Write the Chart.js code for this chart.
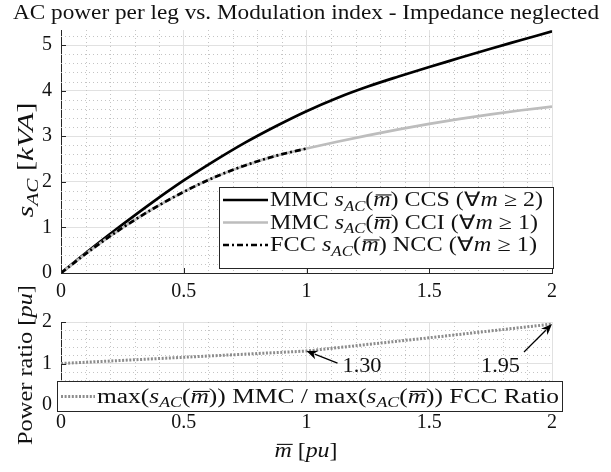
<!DOCTYPE html>
<html>
<head>
<meta charset="utf-8">
<script src="https://cdn.jsdelivr.net/npm/chart.js@4.4.0/dist/chart.umd.min.js"></script>
<style>
    html, body { margin: 0; padding: 0; background: #fff; }
    #wrap { position: relative; width: 611px; height: 472px; }
    canvas { position: absolute; left: 0; top: 0; }
</style>
</head>
<body>
<div id="wrap">
    <canvas id="topChart" width="611" height="472"></canvas>
    <canvas id="bottomChart" width="611" height="472"></canvas>
</div>
<script>
// ========== DADOS ==========
const mCurve = [0, 0.125, 0.25, 0.375, 0.5, 0.625, 0.75, 0.875, 1, 1.125, 1.25, 1.375, 1.5, 1.625, 1.75, 1.875, 2];
const mmcCcs = [0, 0.54, 1.06, 1.56, 2.03, 2.46, 2.86, 3.22, 3.55, 3.84, 4.09, 4.31, 4.52, 4.72, 4.92, 5.11, 5.30];
const mmcCci = [0, 0.52, 0.99, 1.41, 1.78, 2.10, 2.36, 2.57, 2.73, 2.88, 3.02, 3.15, 3.27, 3.38, 3.48, 3.57, 3.65];
const mFcc = [0, 0.125, 0.25, 0.375, 0.5, 0.625, 0.75, 0.875, 1];
const fccNcc = [0, 0.52, 0.99, 1.41, 1.78, 2.10, 2.36, 2.57, 2.73];

const mRatio = [0, 0.5, 1, 1.5, 2];
const powerRatio = [1.00, 1.15, 1.30, 1.62, 1.95];
const ratioMarks = [
    { x: 1, y: 1.30, label: '1.30' },
    { x: 2, y: 1.95, label: '1.95' }
];

const xTicks = [0, 0.5, 1, 1.5, 2];
const xMinor = [0.1, 0.2, 0.3, 0.4, 0.6, 0.7, 0.8, 0.9, 1.1, 1.2, 1.3, 1.4, 1.6, 1.7, 1.8, 1.9];
const yTicksTop = [0, 1, 2, 3, 4, 5];
const yMinorTop = [0.2, 0.4, 0.6, 0.8, 1.2, 1.4, 1.6, 1.8, 2.2, 2.4, 2.6, 2.8, 3.2, 3.4, 3.6, 3.8, 4.2, 4.4, 4.6, 4.8, 5.2];
const yTicksBottom = [0, 1, 2];
const yMinorBottom = [0.2, 0.4, 0.6, 0.8, 1.2, 1.4, 1.6, 1.8];

const FONT = '"Liberation Serif", serif';
const TXT = '#111';

// ========== TEXTO COM MATEMÁTICA ==========
const N = t => ({ t });
const I = t => ({ t, it: true });
const S = t => ({ t, it: true, sub: true });
const B = t => ({ t, it: true, bar: true });
const sAC = () => [I('s'), S('AC'), N('('), B('m'), N(')')];

function fontFor(r, size) {
    const s = r.sub ? size * 0.7 : size;
    return (r.it ? 'italic ' : '') + s + 'px ' + FONT;
}

function drawRuns(ctx, runs, x, y, size, opts = {}) {
    ctx.save();
    let w = 0;
    const widths = runs.map(r => {
        ctx.font = fontFor(r, size);
        const m = ctx.measureText(r.t).width;
        w += m;
        return m;
    });
    const sx = opts.fit ? opts.fit / w : 1;
    let start = x;
    if (opts.align === 'center') start = x - w * sx / 2;
    if (opts.align === 'right') start = x - w * sx;
    ctx.translate(start, y + size * 0.32);
    ctx.scale(sx, 1);
    ctx.fillStyle = TXT;
    ctx.textAlign = 'left';
    ctx.textBaseline = 'alphabetic';
    let cx = 0;
    runs.forEach((r, i) => {
        ctx.font = fontFor(r, size);
        ctx.fillText(r.t, cx, r.sub ? size * 0.22 : 0);
        if (r.bar) ctx.fillRect(cx + size * 0.1, -size * 0.6, widths[i] - size * 0.06, 1.1);
        cx += widths[i];
    });
    ctx.restore();
}

function drawRotated(ctx, runs, cx, cy, size, fit) {
    ctx.save();
    ctx.translate(cx, cy);
    ctx.rotate(-Math.PI / 2);
    drawRuns(ctx, runs, 0, 0, size, { align: 'center', fit });
    ctx.restore();
}

// ========== GRADE MENOR E MARCAS ==========
function drawMinorGrid(chart, yMinor) {
    const { ctx, chartArea: a, scales } = chart;
    ctx.save();
    ctx.strokeStyle = '#c4c4c4';
    ctx.lineWidth = 1;
    ctx.setLineDash([1, 3]);
    ctx.beginPath();
    xMinor.forEach(v => {
        const px = Math.round(scales.x.getPixelForValue(v)) + 0.5;
        ctx.moveTo(px, a.top);
        ctx.lineTo(px, a.bottom);
    });
    yMinor.forEach(v => {
        const py = Math.round(scales.y.getPixelForValue(v)) + 0.5;
        ctx.moveTo(a.left, py);
        ctx.lineTo(a.right, py);
    });
    ctx.stroke();
    ctx.restore();
}

function drawInnerTicks(chart, yTicks) {
    const { ctx, chartArea: a, scales } = chart;
    ctx.save();
    ctx.strokeStyle = '#262626';
    ctx.lineWidth = 1;
    ctx.beginPath();
    xTicks.forEach(v => {
        const px = Math.round(scales.x.getPixelForValue(v)) + 0.5;
        ctx.moveTo(px, a.bottom);
        ctx.lineTo(px, a.bottom - 5);
    });
    yTicks.forEach(v => {
        const py = Math.round(scales.y.getPixelForValue(v)) + 0.5;
        ctx.moveTo(a.left, py);
        ctx.lineTo(a.left + 5, py);
    });
    ctx.stroke();
    ctx.restore();
}

function legendLine(ctx, ds, x1, x2, y) {
    ctx.save();
    ctx.strokeStyle = ds.borderColor;
    ctx.lineWidth = ds.borderWidth;
    ctx.setLineDash(ds.borderDash || []);
    ctx.beginPath();
    ctx.moveTo(x1, y);
    ctx.lineTo(x2, y);
    ctx.stroke();
    ctx.restore();
}

function arrow(ctx, x1, y1, x2, y2) {
    const ang = Math.atan2(y2 - y1, x2 - x1);
    const len = 11, half = 4.5;
    ctx.save();
    ctx.strokeStyle = '#000';
    ctx.fillStyle = '#000';
    ctx.lineWidth = 1.3;
    ctx.beginPath();
    ctx.moveTo(x1, y1);
    ctx.lineTo(x2 - Math.cos(ang) * len * 0.8, y2 - Math.sin(ang) * len * 0.8);
    ctx.stroke();
    ctx.beginPath();
    ctx.moveTo(x2, y2);
    ctx.lineTo(x2 - Math.cos(ang) * len + Math.sin(ang) * half, y2 - Math.sin(ang) * len - Math.cos(ang) * half);
    ctx.lineTo(x2 - Math.cos(ang) * len * 0.7, y2 - Math.sin(ang) * len * 0.7);
    ctx.lineTo(x2 - Math.cos(ang) * len - Math.sin(ang) * half, y2 - Math.sin(ang) * len + Math.cos(ang) * half);
    ctx.closePath();
    ctx.fill();
    ctx.restore();
}

// ========== EIXOS COMUNS ==========
function xAxis(height, pad) {
    return {
        type: 'linear', min: 0, max: 2,
        afterBuildTicks: axis => { axis.ticks = xTicks.map(v => ({ value: v })); },
        afterFit: axis => { axis.height = height; },
        ticks: { callback: v => String(v), color: TXT, font: { family: FONT, size: 20 }, padding: pad, maxRotation: 0 },
        grid: { color: '#e1e1e1', drawTicks: false },
        border: { color: '#262626', width: 1 }
    };
}

function yAxis(max, ticks) {
    return {
        type: 'linear', min: 0, max: max,
        afterBuildTicks: axis => { axis.ticks = ticks.map(v => ({ value: v })); },
        afterFit: axis => { axis.width = 61; },
        ticks: { callback: v => String(v), color: TXT, font: { family: FONT, size: 20 }, padding: 9 },
        grid: { color: '#e1e1e1', drawTicks: false },
        border: { color: '#262626', width: 1 }
    };
}

// ========== GRÁFICO SUPERIOR ==========
const topDatasets = [
    {
        label: 'MMC CCS',
        data: mCurve.map((m, i) => ({ x: m, y: mmcCcs[i] })),
        borderColor: '#000', borderWidth: 2.7, order: 2
    },
    {
        label: 'MMC CCI',
        data: mCurve.map((m, i) => ({ x: m, y: mmcCci[i] })),
        borderColor: '#bdbdbd', borderWidth: 2.7, order: 1
    },
    {
        label: 'FCC NCC',
        data: mFcc.map((m, i) => ({ x: m, y: fccNcc[i] })),
        borderColor: '#000', borderWidth: 2.7, borderDash: [6, 3, 2, 3], order: 0
    }
];

const topLegend = [
    [N('MMC '), ...sAC(), N(' CCS ('), N('∀'), I('m'), N(' ≥ 2)')],
    [N('MMC '), ...sAC(), N(' CCI ('), N('∀'), I('m'), N(' ≥ 1)')],
    [N('FCC '), ...sAC(), N(' NCC ('), N('∀'), I('m'), N(' ≥ 1)')]
];
const topLegendFit = [273, 268, 267];

new Chart(document.getElementById('topChart'), {
    type: 'line',
    data: { datasets: topDatasets },
    options: {
        responsive: false,
        animation: false,
        layout: { padding: { top: 30, right: 59, bottom: 162, left: 0 } },
        elements: { point: { radius: 0 }, line: { cubicInterpolationMode: 'monotone' } },
        plugins: { legend: { display: false }, tooltip: { enabled: false } },
        scales: { x: xAxis(37, 7), y: yAxis(5.33, yTicksTop) }
    },
    plugins: [{
        id: 'topDeco',
        beforeDatasetsDraw: chart => drawMinorGrid(chart, yMinorTop),
        afterDraw: chart => {
            const ctx = chart.ctx;
            drawInnerTicks(chart, yTicksTop);
            drawRuns(ctx, [N('AC power per leg vs. Modulation index - Impedance neglected')], 306, 13, 20, { align: 'center', fit: 586 });
            drawRotated(ctx, [I('s'), S('AC'), N(' ['), I('kVA'), N(']')], 25, 160, 24, 115);

            ctx.save();
            ctx.fillStyle = '#fff';
            ctx.fillRect(219.5, 187.5, 334, 81);
            ctx.strokeStyle = '#262626';
            ctx.lineWidth = 1;
            ctx.strokeRect(219.5, 187.5, 334, 81);
            ctx.restore();
            const rows = [200, 222.5, 245];
            topLegend.forEach((runs, i) => {
                legendLine(ctx, topDatasets[i], 223, 268, rows[i]);
                drawRuns(ctx, runs, 270, rows[i], 20, { fit: topLegendFit[i] });
            });
        }
    }]
});

// ========== GRÁFICO INFERIOR ==========
const ratioDataset = {
    label: 'Ratio',
    data: mRatio.map((m, i) => ({ x: m, y: powerRatio[i] })),
    borderColor: '#8c8c8c', borderWidth: 3, borderDash: [2, 1.6]
};

new Chart(document.getElementById('bottomChart'), {
    type: 'line',
    data: { datasets: [ratioDataset] },
    options: {
        responsive: false,
        animation: false,
        layout: { padding: { top: 322, right: 59, bottom: 0, left: 0 } },
        elements: { point: { radius: 0 } },
        plugins: { legend: { display: false }, tooltip: { enabled: false } },
        scales: { x: xAxis(67, 6), y: yAxis(2, yTicksBottom) }
    },
    plugins: [{
        id: 'bottomDeco',
        beforeDatasetsDraw: chart => drawMinorGrid(chart, yMinorBottom),
        afterDraw: chart => {
            const ctx = chart.ctx;
            const { x, y } = chart.scales;
            drawInnerTicks(chart, yTicksBottom);
            drawRotated(ctx, [N('Power ratio ['), I('pu'), N(']')], 25, 365, 22, 160);
            drawRuns(ctx, [B('m'), N(' ['), I('pu'), N(']')], 306, 450, 22, { align: 'center', fit: 63 });

            // anotações
            const offsets = [
                { tail: [31, 12], text: [36, 15] },
                { tail: [-28, 28], text: [-71, 42] }
            ];
            ratioMarks.forEach((mk, i) => {
                const px = x.getPixelForValue(mk.x);
                const py = y.getPixelForValue(mk.y);
                const o = offsets[i];
                arrow(ctx, px + o.tail[0], py + o.tail[1], px, py);
                drawRuns(ctx, [N(mk.label)], px + o.text[0], py + o.text[1], 20, { fit: 39 });
            });

            ctx.save();
            ctx.fillStyle = '#fff';
            ctx.fillRect(57.5, 381.5, 505, 30);
            ctx.strokeStyle = '#262626';
            ctx.lineWidth = 1;
            ctx.strokeRect(57.5, 381.5, 505, 30);
            ctx.restore();
            legendLine(ctx, ratioDataset, 61, 95, 396.5);
            drawRuns(ctx, [N('max('), ...sAC(), N(') MMC / max('), ...sAC(), N(') FCC Ratio')], 97, 396.5, 20, { fit: 462 });
        }
    }]
});
</script>
</body>
</html>
